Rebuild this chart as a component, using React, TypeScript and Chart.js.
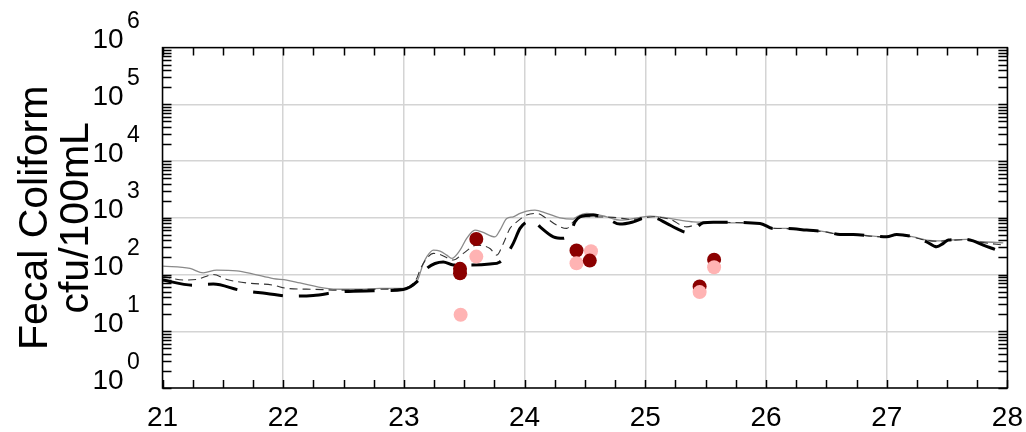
import React, { useEffect, useRef } from 'react';
import { Chart, registerables } from 'chart.js';

Chart.register(...registerables);

const FONT = '"Liberation Sans", Arial, Helvetica, sans-serif';

const xTickValues = [21, 22, 23, 24, 25, 26, 27, 28];
const yDecades = [1, 10, 100, 1000, 10000, 100000, 1000000];
const yExponents = ['0', '1', '2', '3', '4', '5', '6'];
const yTitle = ['Fecal Coliform', 'cfu/100mL'];

// thin gray solid line
const grayT = [21.0, 21.228, 21.338, 21.449, 21.615, 21.752, 21.918, 22.029, 22.139, 22.36, 22.471, 22.636, 22.802, 22.995, 23.106, 23.161, 23.189, 23.244, 23.299, 23.355, 23.396, 23.465, 23.52, 23.589, 23.645, 23.755, 23.796, 23.852, 23.906, 23.962, 24.017, 24.086, 24.183, 24.293, 24.403, 24.432, 24.514, 24.68, 24.79, 24.956, 25.039, 25.149, 25.287, 25.398, 25.509, 25.702, 25.95, 26.06, 26.171, 26.337, 26.503, 26.613, 26.723, 26.889, 27.0, 27.083, 27.22, 27.331, 27.442, 27.524, 27.663, 27.717, 27.8, 27.966];
const grayV = [141, 128, 107, 120, 116, 102, 85, 80, 71, 57, 55, 55, 57, 57, 74, 157, 205, 269, 259, 220, 192, 269, 434, 607, 566, 462, 607, 975, 1042, 1197, 1312, 1368, 1197, 1000, 948, 1042, 1197, 1042, 910, 1016, 1072, 1016, 910, 849, 839, 817, 796, 650, 650, 607, 566, 509, 509, 475, 462, 509, 462, 405, 393, 405, 416, 393, 378, 362];

// thin short-dashed line
const dashT = [21.0, 21.172, 21.283, 21.421, 21.532, 21.698, 21.918, 22.029, 22.249, 22.471, 22.746, 22.995, 23.106, 23.133, 23.189, 23.244, 23.299, 23.409, 23.492, 23.603, 23.713, 23.769, 23.824, 23.879, 23.935, 24.017, 24.1, 24.183, 24.266, 24.349, 24.403, 24.459, 24.735, 24.901, 25.066, 25.205, 25.343, 25.453, 25.563, 25.95, 26.06, 26.171, 26.337, 26.503, 26.613, 26.723, 26.889, 27.0, 27.083, 27.22, 27.331, 27.442, 27.524, 27.663, 27.717, 27.8, 27.966];
const dashV = [94, 80, 82, 100, 82, 71, 65, 57, 55, 53, 55, 57, 85, 120, 192, 236, 226, 180, 236, 330, 288, 220, 354, 650, 849, 1117, 1197, 975, 743, 650, 849, 1042, 1016, 937, 1042, 937, 693, 796, 830, 790, 655, 645, 600, 560, 505, 505, 470, 460, 500, 455, 400, 385, 400, 410, 390, 365, 330];

// thick long-dashed line
const thickT = [21.0, 21.255, 21.421, 21.642, 21.863, 22.056, 22.249, 22.471, 22.746, 22.995, 23.106, 23.189, 23.326, 23.409, 23.52, 23.713, 23.796, 23.865, 23.906, 23.962, 24.017, 24.072, 24.128, 24.238, 24.321, 24.376, 24.418, 24.459, 24.569, 24.68, 24.79, 24.901, 25.012, 25.094, 25.177, 25.287, 25.343, 25.412, 25.481, 25.563, 25.95, 26.06, 26.171, 26.337, 26.503, 26.613, 26.723, 26.889, 27.0, 27.083, 27.22, 27.331, 27.414, 27.469, 27.51, 27.663, 27.717, 27.8, 27.897];
const thickV = [80, 65, 68, 53, 46.5, 41.6, 42.8, 49.5, 51.6, 54.6, 74, 128, 167, 147, 147, 153, 167, 251, 354, 650, 849, 910, 693, 462, 434, 531, 849, 1042, 1117, 975, 774, 849, 1016, 975, 796, 607, 553, 650, 817, 839, 796, 650, 650, 607, 566, 509, 509, 475, 462, 509, 462, 378, 308, 354, 405, 416, 393, 330, 277];

// observations (dark red)
const obsDarkT = [23.6, 23.465, 23.465, 24.43, 25.45, 25.57];
const obsDarkV = [423, 126, 105, 265, 61.5, 183];
const obsDarkTopT = [24.54];
const obsDarkTopV = [176];
// observations (pink)
const obsPinkT = [23.6, 23.47, 24.43, 24.55, 25.45, 25.57];
const obsPinkV = [207, 19.6, 158, 257, 49, 134];

const pts = (t: number[], v: number[]) => t.map((x, i) => ({ x, y: v[i] }));

const framePlugin = {
  id: 'framePlugin',
  afterDraw(chart: any) {
    const { ctx, chartArea: a, scales } = chart;
    const xs = scales.x;
    const ys = scales.y;
    ctx.save();
    ctx.strokeStyle = '#000';
    ctx.lineWidth = 1.5;
    ctx.beginPath();
    for (let i = 0; i <= 28; i++) {
      const px = Math.round(xs.getPixelForValue(21 + i * 0.25)) + 0.5;
      ctx.moveTo(px, a.bottom);
      ctx.lineTo(px, a.bottom - 8);
      ctx.moveTo(px, a.top);
      ctx.lineTo(px, a.top + 8);
    }
    for (let n = 0; n < 6; n++) {
      for (let k = 1; k <= 9; k++) {
        const py = Math.round(ys.getPixelForValue(k * Math.pow(10, n))) + 0.5;
        ctx.moveTo(a.left, py);
        ctx.lineTo(a.left + 9, py);
        ctx.moveTo(a.right, py);
        ctx.lineTo(a.right - 9, py);
      }
    }
    ctx.stroke();
    ctx.strokeRect(a.left, a.top, a.right - a.left, a.bottom - a.top);

    ctx.fillStyle = '#000';
    ctx.textAlign = 'left';
    ctx.textBaseline = 'alphabetic';
    yDecades.forEach((v, i) => {
      const py = ys.getPixelForValue(v);
      ctx.font = `28px ${FONT}`;
      ctx.fillText('10', 92.5, py + 0.5);
      ctx.font = `23px ${FONT}`;
      ctx.fillText(yExponents[i], 127, py - 19.5);
    });

    ctx.save();
    ctx.translate(0, (a.top + a.bottom) / 2);
    ctx.rotate(-Math.PI / 2);
    ctx.textAlign = 'center';
    ctx.font = `41px ${FONT}`;
    ctx.fillText(yTitle[0], 0, 47);
    ctx.fillText(yTitle[1], 0, 88);
    ctx.restore();
    ctx.restore();
  },
};

export default function App() {
  const ref = useRef<HTMLCanvasElement | null>(null);
  useEffect(() => {
    if (!ref.current) return;
    const lineCommon = {
      showLine: true,
      pointRadius: 0,
      fill: false,
      cubicInterpolationMode: 'monotone' as const,
    };
    const chart = new Chart(ref.current, {
      type: 'scatter',
      data: {
        datasets: [
          { label: 'obs1b', data: pts(obsDarkTopT, obsDarkTopV), backgroundColor: '#8b0000', borderWidth: 0, pointRadius: 7 },
          { label: 'obs2', data: pts(obsPinkT, obsPinkV), backgroundColor: '#ffb3b3', borderWidth: 0, pointRadius: 7 },
          { label: 'obs1', data: pts(obsDarkT, obsDarkV), backgroundColor: '#8b0000', borderWidth: 0, pointRadius: 7 },
          { label: 'thick', data: pts(thickT, thickV), borderColor: '#000', borderWidth: 3, borderDash: [30, 16], ...lineCommon },
          { label: 'dash', data: pts(dashT, dashV), borderColor: '#333', borderWidth: 1.1, borderDash: [8, 5], ...lineCommon },
          { label: 'gray', data: pts(grayT, grayV), borderColor: '#8a8a8a', borderWidth: 1.3, ...lineCommon },
        ],
      },
      options: {
        animation: false,
        responsive: false,
        layout: { padding: { left: 0, top: 47.6, right: 18.6, bottom: 0 } },
        plugins: { legend: { display: false }, tooltip: { enabled: false } },
        scales: {
          x: {
            type: 'linear',
            min: 21,
            max: 28,
            afterBuildTicks: (s: any) => {
              s.ticks = xTickValues.map((v) => ({ value: v }));
            },
            afterFit: (s: any) => {
              s.height = 44;
              s.paddingLeft = 0;
              s.paddingRight = 0;
            },
            ticks: { color: '#000', font: { size: 28, family: FONT }, padding: 13, maxRotation: 0 },
            grid: { color: '#d4d4d4', lineWidth: 1.5, drawTicks: false },
            border: { display: false },
          },
          y: {
            type: 'logarithmic',
            min: 1,
            max: 1000000,
            afterBuildTicks: (s: any) => {
              s.ticks = yDecades.map((v) => ({ value: v }));
            },
            afterFit: (s: any) => {
              s.width = 162.5;
              s.paddingTop = 0;
              s.paddingBottom = 0;
            },
            ticks: { display: false },
            grid: { color: '#d4d4d4', lineWidth: 1.5, drawTicks: false },
            border: { display: false },
          },
        },
      },
      plugins: [framePlugin],
    });
    return () => chart.destroy();
  }, []);
  return (
    <div style={{ position: 'fixed', left: 0, top: 0, width: 1026, height: 432, background: '#fff' }}>
      <canvas ref={ref} width={1026} height={432} />
    </div>
  );
}
